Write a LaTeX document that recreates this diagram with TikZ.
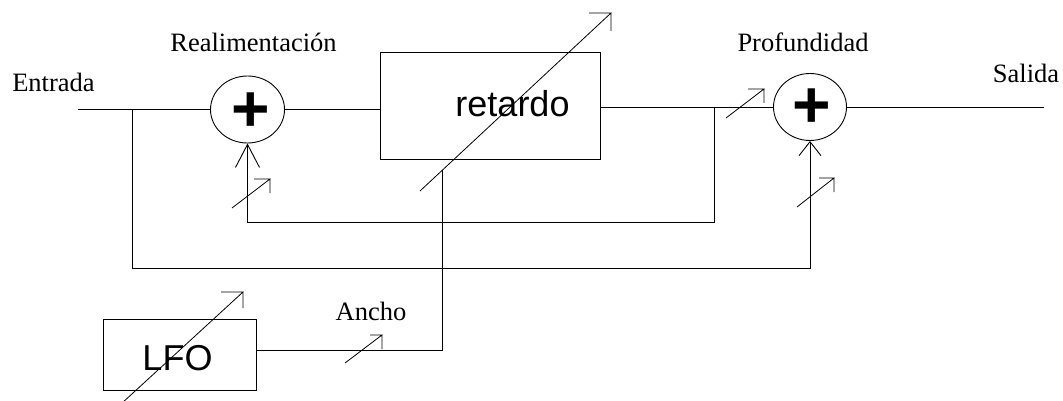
\documentclass[tikz,border=0pt]{standalone}
\usepackage{fontspec}
\setmainfont{Liberation Serif}
\newfontfamily\arialfont{Liberation Sans}
\usetikzlibrary{shapes.geometric,arrows.meta}
\begin{document}
\begin{tikzpicture}[x=1pt,y=-1pt,
  wire/.style={line width=0.9pt},
  sumnode/.style={ellipse,draw,line width=0.9pt,minimum width=74pt,minimum height=67pt,inner sep=0pt},
  blockbox/.style={draw,line width=0.9pt,inner sep=0pt},
  lbl/.style={font=\fontsize{26.5}{30}\selectfont,anchor=base,inner sep=0pt},
  blk/.style={font=\arialfont\fontsize{36}{40}\selectfont,anchor=base,inner sep=0pt},
  plus/.style={font=\arialfont\bfseries\fontsize{66}{66}\selectfont,inner sep=0pt},
  adj/.style={line width=0.8pt},
  ]
\useasboundingbox (0,0) rectangle (1063,401);
% blocks
\node[sumnode] (c1) at (247.5,109.5) {};
\node[sumnode,minimum width=73pt] (c2) at (810,107) {};
\node[blockbox,minimum width=220pt,minimum height=107pt] (ret) at (490,105.5) {};
\node[blockbox,minimum width=153pt,minimum height=71pt] (lfo) at (179.5,354.5) {};
% texts
\node[plus] (p1) at (251,112.5) {+};
\node[plus] (p2) at (812,108) {+};
\node[blk] (rt) at (512.5,117) {retardo};
\node[blk] (lt) at (177.5,370) {LFO};
\node[lbl] (ent) at (53.5,92) {Entrada};
\node[lbl] (rea) at (253.5,52) {Realimentación};
\node[lbl] (pro) at (803,52) {Profundidad};
\node[lbl] (sal) at (1026,83) {Salida};
\node[lbl] (anc) at (371,320) {Ancho};
% coordinates
\coordinate (in) at (78,109.5);
\coordinate (out) at (1044,107);
\coordinate (j1) at (132,109.5);
\coordinate (j2) at (714,107);
\coordinate (rtap) at (442,170.5);
% wires
\draw[wire] (in) -- (c1.west);
\draw[wire] (c1.east) -- (c1.east -| ret.west);
\draw[wire] (c2.west -| ret.east) -- (c2.west);
\draw[wire] (c2.east) -- (out);
\draw[wire,-{Straight Barb[length=14pt,width=22pt]}] (j1) -- (132,268) -| (c2.south);
\draw[wire,-{Straight Barb[length=23pt,width=24pt]}] (j2) -- (714,222) -| (c1.south);
\draw[wire] ([yshift=4.5pt]lfo.east) -| (rtap);
% adjustable arrows
\draw[adj] (420,191) -- (611,13) -- ++(-22,0) (611,13) -- ++(0,18);
\draw[adj] (121,404) -- (243,292) -- ++(-22,0) (243,292) -- ++(0,16);
\draw[adj] (345,363) -- (382,335) -- ++(-12,0) (382,335) -- ++(0,14);
\draw[adj] (726,118) -- (764,89) -- ++(-16,0) (764,89) -- ++(0,14);
\draw[adj] (797,207) -- (834,178) -- ++(-15,0) (834,178) -- ++(0,14);
\draw[adj] (232,208) -- (270,179) -- ++(-16,0) (270,179) -- ++(0,14);
\end{tikzpicture}
\end{document}
